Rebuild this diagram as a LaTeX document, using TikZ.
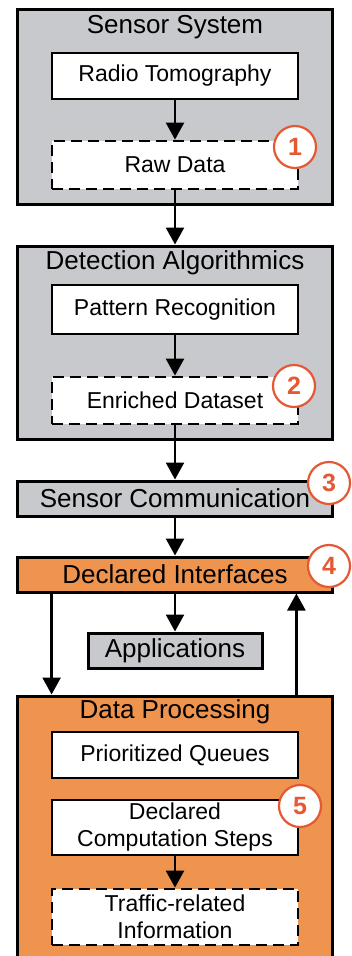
\documentclass[tikz,border=0pt]{standalone}
\usepackage{fontspec}
\setmainfont{Liberation Sans}
\usetikzlibrary{arrows.meta}

\definecolor{boxgray}{RGB}{200,201,205}
\definecolor{boxorange}{RGB}{239,148,78}
\definecolor{markred}{RGB}{228,88,52}

\tikzset{
  outerbox/.style={draw, line width=3pt, inner sep=0pt},
  innerbox/.style={draw, fill=white, line width=2.8pt, minimum width=246, inner sep=0pt,
    align=center, font=\fontsize{23}{27}\selectfont},
  databox/.style={innerbox, dash pattern=on 11pt off 6pt},
  barbox/.style={draw, line width=3pt, minimum height=35, inner sep=0pt,
    font=\fontsize{26}{30}\selectfont},
  boxtitle/.style={font=\fontsize{26}{30}\selectfont},
  badge/.style={circle, draw=markred, fill=white, line width=2.2pt, minimum size=42, inner sep=0pt,
    text=markred, font=\fontsize{25}{25}\selectfont\bfseries},
  arr/.style={line width=2.5pt, -{Triangle[width=18pt,length=17pt]}}
}

\begin{document}
\begin{tikzpicture}[x=1pt,y=-1pt]
  \useasboundingbox (0,0) rectangle (351,956);

  % Draw sensor system
  \node[outerbox, fill=boxgray, minimum width=315, minimum height=195] (sensys) at (175,106.5) {};
  \node[boxtitle] (sensystitle) at (175,27) {Sensor System};
  \node[innerbox, minimum height=46] (radio) at (175,76) {Radio Tomography};
  \node[databox, minimum height=48] (raw) at (175,165) {Raw Data};

  % Draw detection algorithmics
  \node[outerbox, fill=boxgray, minimum width=315, minimum height=193] (detect) at (175,342.5) {};
  \node[boxtitle] (detecttitle) at (175,263) {Detection Algorithmics};
  \node[innerbox, minimum height=49] (pattern) at (175,309.5) {Pattern Recognition};
  \node[databox, minimum height=47] (enriched) at (175,400.5) {Enriched Dataset};

  % Draw communication and interfaces
  \node[barbox, fill=boxgray, minimum width=315] (senscom) at (175,498.5) {Sensor Communication};
  \node[barbox, fill=boxorange, minimum width=315] (declint) at (175,574.5) {Declared Interfaces};
  \node[barbox, fill=boxgray, minimum width=174] (apps) at (175,650.5) {Applications};

  % Draw data processing
  \node[outerbox, fill=boxorange, minimum width=315, minimum height=279] (dataproc) at (175,835.5) {};
  \node[boxtitle] (dataproctitle) at (175,712) {Data Processing};
  \node[innerbox, minimum height=46] (prio) at (175,755) {Prioritized Queues};
  \node[innerbox, minimum height=55] (steps) at (175,827.5) {Declared\\Computation Steps};
  \node[databox, minimum height=56] (traffic) at (175,917) {Traffic-related\\Information};

  % arrows
  \draw[arr] (radio) -- (raw);
  \draw[arr] (raw) -- (detect);
  \draw[arr] (pattern) -- (enriched);
  \draw[arr] (enriched) -- (senscom);
  \draw[arr] (senscom) -- (declint);
  \draw[arr] (declint) -- (apps);
  \draw[arr] ([xshift=1pt]declint.south -| prio.west) -- ([xshift=1pt]dataproc.north -| prio.west);
  \draw[arr] ([xshift=-3pt]dataproc.north -| prio.east) -- ([xshift=-3pt]declint.south -| prio.east);
  \draw[arr] (steps) -- (traffic);

  % marks
  \node[badge] (mark1) at (295,147) {1};
  \node[badge] (mark2) at (294,386) {2};
  \node[badge] (mark3) at (329,483) {3};
  \node[badge] (mark4) at (329,566) {4};
  \node[badge] (mark5) at (300,806) {5};
\end{tikzpicture}
\end{document}
